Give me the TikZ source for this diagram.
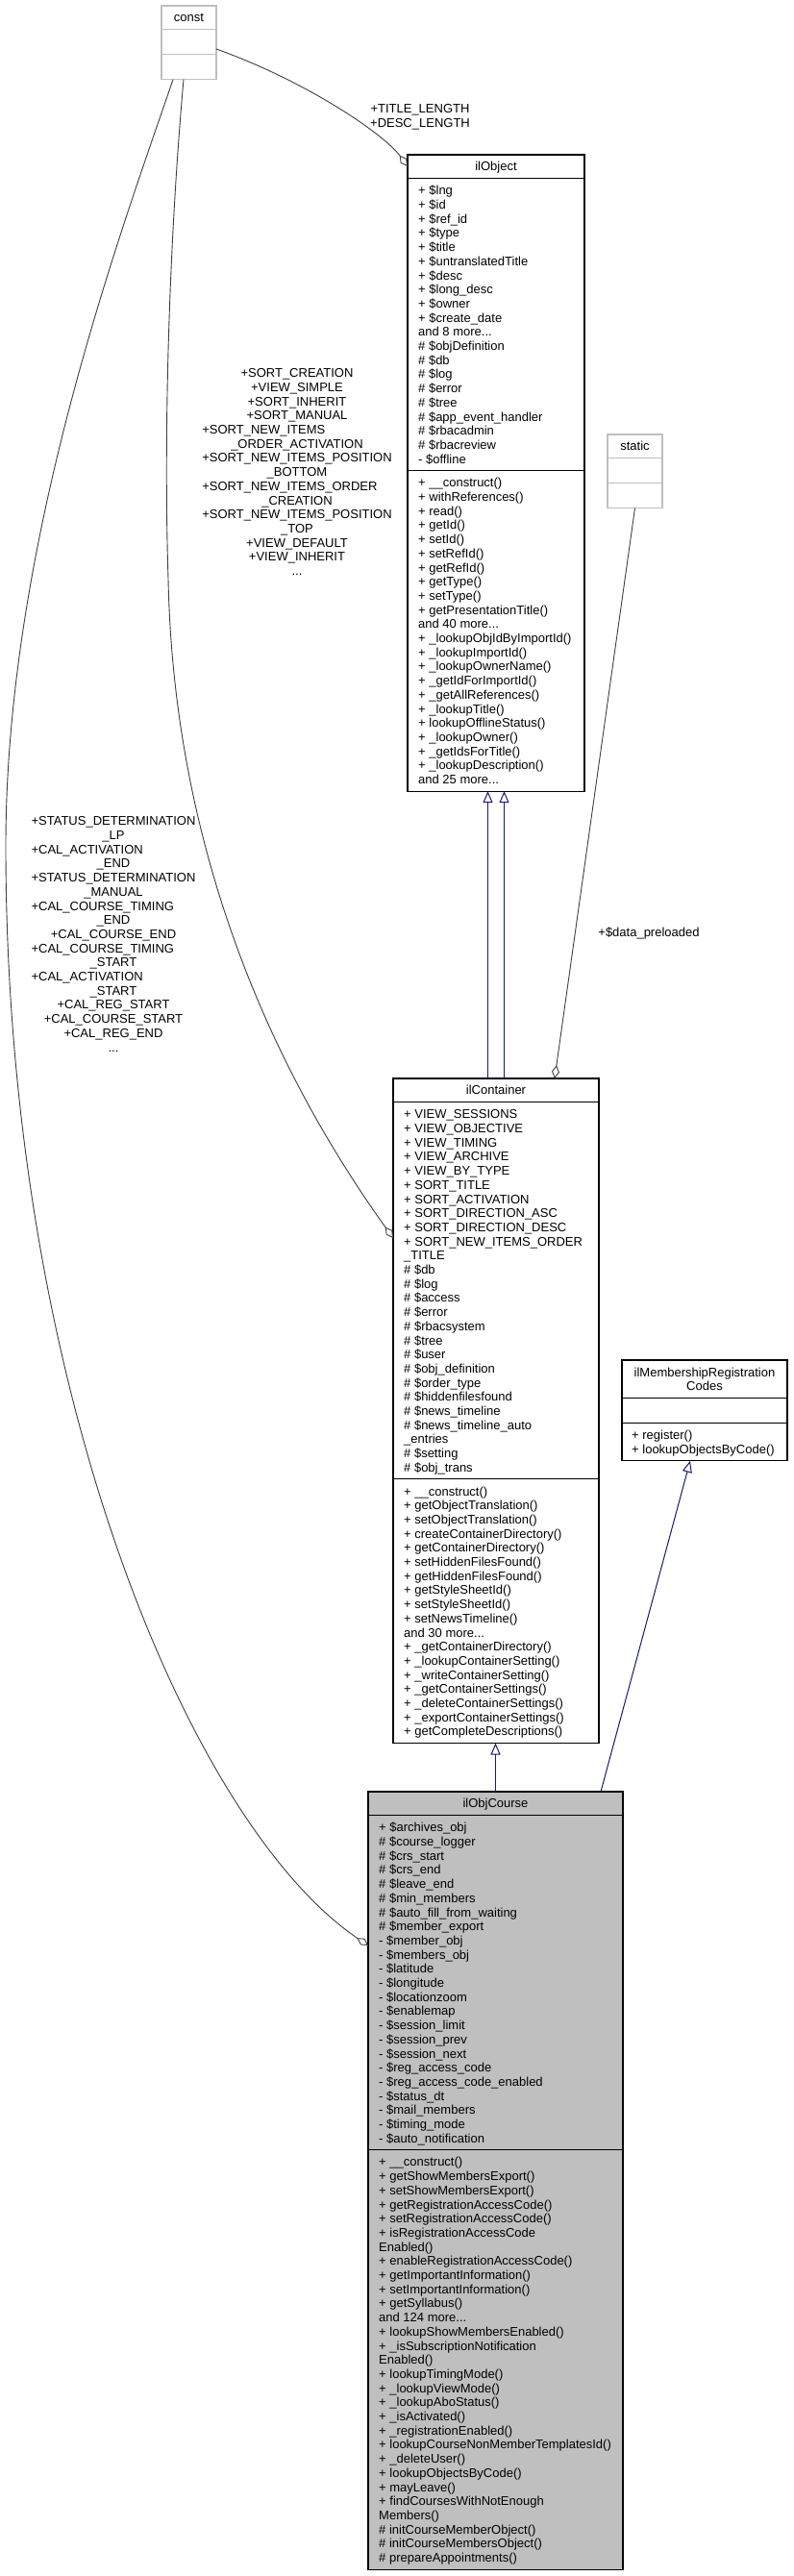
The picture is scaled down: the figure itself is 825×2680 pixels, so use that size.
\documentclass[tikz,border=0pt]{standalone}
\usepackage{fontspec}
\setmainfont{Liberation Sans}
\usetikzlibrary{arrows.meta,calc}
\definecolor{navyedge}{HTML}{191970}
\definecolor{useedge}{HTML}{404040}
\definecolor{coursefill}{HTML}{BFBFBF}
\definecolor{ghost}{HTML}{BFBFBF}
\newcommand{\lsort}[1]{\rlap{#1}\phantom{+SORT\_NEW\_ITEMS\_POSITION}}
\newcommand{\lstat}[1]{\rlap{#1}\phantom{+STATUS\_DETERMINATION}}
\tikzset{
  dfont/.style={font=\fontsize{13}{14.7}\selectfont},
  clsbox/.style={draw=black, fill=white, line width=1.1pt, anchor=north west, inner sep=0pt, outer sep=0pt},
  ghostbox/.style={draw=ghost, fill=white, line width=1.1pt, anchor=north west, inner sep=0pt, outer sep=0pt, minimum width=57pt, minimum height=76.7pt},
  divline/.style={draw=black, line width=1.1pt},
  ghostline/.style={draw=ghost, line width=1.1pt},
  memberlist/.style={dfont, anchor=north west, align=left, inner sep=0pt},
  classtitle/.style={dfont, anchor=base, inner sep=0pt},
  inherit/.style={draw=navyedge, line width=1pt, -{Triangle[open, fill=white, length=12pt, width=10pt]}},
  usage/.style={draw=useedge, line width=0.9pt, -{Diamond[open, fill=white, length=14pt, width=8pt]}},
  edgelabel/.style={dfont, align=center, inner sep=0pt, anchor=north},
}
\begin{document}
\begin{tikzpicture}[x=1pt,y=-1pt]
\fill[white] (0,0) rectangle (825,2680);
\useasboundingbox (0,0) rectangle (825,2680);

% ---------- const ----------
\node[ghostbox] (const) at (168,6) {};
\draw[ghostline] ($(const.north west)+(0,24.7)$) -- ++(57,0);
\draw[ghostline] ($(const.north west)+(0,50.7)$) -- ++(57,0);
\node[classtitle] (constT) at (196.5,22.95) {const};

% ---------- static ----------
\node[ghostbox] (static) at (632,452) {};
\draw[ghostline] ($(static.north west)+(0,24.7)$) -- ++(57,0);
\draw[ghostline] ($(static.north west)+(0,50.7)$) -- ++(57,0);
\node[classtitle] (staticT) at (660.5,468.95) {static};

% ---------- ilObject ----------
\node[clsbox, minimum width=184pt, minimum height=662.1pt] (ilObject) at (424,161) {};
\draw[divline] ($(ilObject.north west)+(0,24.7)$) -- ++(184,0);
\draw[divline] ($(ilObject.north west)+(0,328.7)$) -- ++(184,0);
\node[classtitle] (ilObjectT) at (516,177.95) {ilObject};
\node[memberlist] (ilObjectA) at (435,192.35) {\strut+ \$lng\\
+ \$id\\
+ \$ref\_id\\
+ \$type\\
+ \$title\\
+ \$untranslatedTitle\\
+ \$desc\\
+ \$long\_desc\\
+ \$owner\\
+ \$create\_date\\
and 8 more...\\
\# \$objDefinition\\
\# \$db\\
\# \$log\\
\# \$error\\
\# \$tree\\
\# \$app\_event\_handler\\
\# \$rbacadmin\\
\# \$rbacreview\\
- \$offline};
\node[memberlist] (ilObjectM) at (435,496.35) {\strut+ \_\_construct()\\
+ withReferences()\\
+ read()\\
+ getId()\\
+ setId()\\
+ setRefId()\\
+ getRefId()\\
+ getType()\\
+ setType()\\
+ getPresentationTitle()\\
and 40 more...\\
+ \_lookupObjIdByImportId()\\
+ \_lookupImportId()\\
+ \_lookupOwnerName()\\
+ \_getIdForImportId()\\
+ \_getAllReferences()\\
+ \_lookupTitle()\\
+ lookupOfflineStatus()\\
+ \_lookupOwner()\\
+ \_getIdsForTitle()\\
+ \_lookupDescription()\\
and 25 more...};

% ---------- ilContainer ----------
\node[clsbox, minimum width=214pt, minimum height=691.5pt] (ilContainer) at (409,1122) {};
\draw[divline] ($(ilContainer.north west)+(0,24.7)$) -- ++(214,0);
\draw[divline] ($(ilContainer.north west)+(0,416.9)$) -- ++(214,0);
\node[classtitle] (ilContainerT) at (516,1138.95) {ilContainer};
\node[memberlist] (ilContainerA) at (420,1153.35) {\strut+ VIEW\_SESSIONS\\
+ VIEW\_OBJECTIVE\\
+ VIEW\_TIMING\\
+ VIEW\_ARCHIVE\\
+ VIEW\_BY\_TYPE\\
+ SORT\_TITLE\\
+ SORT\_ACTIVATION\\
+ SORT\_DIRECTION\_ASC\\
+ SORT\_DIRECTION\_DESC\\
+ SORT\_NEW\_ITEMS\_ORDER\\
\_TITLE\\
\# \$db\\
\# \$log\\
\# \$access\\
\# \$error\\
\# \$rbacsystem\\
\# \$tree\\
\# \$user\\
\# \$obj\_definition\\
\# \$order\_type\\
\# \$hiddenfilesfound\\
\# \$news\_timeline\\
\# \$news\_timeline\_auto\\
\_entries\\
\# \$setting\\
\# \$obj\_trans};
\node[memberlist] (ilContainerM) at (420,1545.55) {\strut+ \_\_construct()\\
+ getObjectTranslation()\\
+ setObjectTranslation()\\
+ createContainerDirectory()\\
+ getContainerDirectory()\\
+ setHiddenFilesFound()\\
+ getHiddenFilesFound()\\
+ getStyleSheetId()\\
+ setStyleSheetId()\\
+ setNewsTimeline()\\
and 30 more...\\
+ \_getContainerDirectory()\\
+ \_lookupContainerSetting()\\
+ \_writeContainerSetting()\\
+ \_getContainerSettings()\\
+ \_deleteContainerSettings()\\
+ \_exportContainerSettings()\\
+ getCompleteDescriptions()};

% ---------- ilMembershipRegistrationCodes ----------
\node[clsbox, minimum width=172pt, minimum height=104.8pt] (ilMembership) at (647,1415) {};
\draw[divline] ($(ilMembership.north west)+(0,39.4)$) -- ++(172,0);
\draw[divline] ($(ilMembership.north west)+(0,65.4)$) -- ++(172,0);
\node[dfont, align=center, anchor=north, inner sep=0pt] (ilMembershipT) at (733,1421.65) {\strut ilMembershipRegistration\\Codes};
\node[memberlist] (ilMembershipM) at (657,1487.05) {\strut+ register()\\
+ lookupObjectsByCode()};

% ---------- ilObjCourse ----------
\node[clsbox, fill=coursefill, minimum width=265pt, minimum height=809.1pt] (ilObjCourse) at (383,1864) {};
\draw[divline] ($(ilObjCourse.north west)+(0,24.7)$) -- ++(265,0);
\draw[divline] ($(ilObjCourse.north west)+(0,372.8)$) -- ++(265,0);
\node[classtitle] (ilObjCourseT) at (515.5,1880.95) {ilObjCourse};
\node[memberlist] (ilObjCourseA) at (394,1895.35) {\strut+ \$archives\_obj\\
\# \$course\_logger\\
\# \$crs\_start\\
\# \$crs\_end\\
\# \$leave\_end\\
\# \$min\_members\\
\# \$auto\_fill\_from\_waiting\\
\# \$member\_export\\
- \$member\_obj\\
- \$members\_obj\\
- \$latitude\\
- \$longitude\\
- \$locationzoom\\
- \$enablemap\\
- \$session\_limit\\
- \$session\_prev\\
- \$session\_next\\
- \$reg\_access\_code\\
- \$reg\_access\_code\_enabled\\
- \$status\_dt\\
- \$mail\_members\\
- \$timing\_mode\\
- \$auto\_notification};
\node[memberlist] (ilObjCourseM) at (394,2243.45) {\strut+ \_\_construct()\\
+ getShowMembersExport()\\
+ setShowMembersExport()\\
+ getRegistrationAccessCode()\\
+ setRegistrationAccessCode()\\
+ isRegistrationAccessCode\\
Enabled()\\
+ enableRegistrationAccessCode()\\
+ getImportantInformation()\\
+ setImportantInformation()\\
+ getSyllabus()\\
and 124 more...\\
+ lookupShowMembersEnabled()\\
+ \_isSubscriptionNotification\\
Enabled()\\
+ lookupTimingMode()\\
+ \_lookupViewMode()\\
+ \_lookupAboStatus()\\
+ \_isActivated()\\
+ \_registrationEnabled()\\
+ lookupCourseNonMemberTemplatesId()\\
+ \_deleteUser()\\
+ lookupObjectsByCode()\\
+ mayLeave()\\
+ findCoursesWithNotEnough\\
Members()\\
\# initCourseMemberObject()\\
\# initCourseMembersObject()\\
\# prepareAppointments()};

% ---------- connectors ----------
\draw[usage] ($(const.north east)+(0,45)$) .. controls (320,85) and (400,140) .. ($(ilObject.north west)+(0,12)$);
\draw[usage] ($(const.south west)+(23,0)$) .. controls (176,250) and (170,450) .. (175,602)
   .. controls (180,850) and (260,1080) .. ($(ilContainer.north west)+(0,166)$);
\draw[usage] ($(const.south west)+(12,0)$) .. controls (130,230) and (6,560) .. (6,880)
   .. controls (6,1450) and (200,1900) .. ($(ilObjCourse.north west)+(0,160)$);
\draw[usage] (static.south) -- ($(ilContainer.north west)+(168,0)$);

\draw[inherit] ($(ilContainer.north)+(-8.5,0)$) -- ($(ilObject.south)+(-8.5,0)$);
\draw[inherit] ($(ilContainer.north)+(8.5,0)$) -- ($(ilObject.south)+(8.5,0)$);
\draw[inherit] (ilObjCourse.north) -- (ilObjCourse.north |- ilContainer.south);
\draw[inherit] ($(ilObjCourse.north west)+(242,0)$) -- ($(ilMembership.south west)+(71,0)$);

% ---------- edge labels ----------
\node[edgelabel] (lblTitle) at (437,107.3) {\strut+TITLE\_LENGTH\\+DESC\_LENGTH};
\node[edgelabel] (lblSort) at (309,382.3) {\strut+SORT\_CREATION\\
+VIEW\_SIMPLE\\
+SORT\_INHERIT\\
+SORT\_MANUAL\\
\lsort{+SORT\_NEW\_ITEMS}\\
\_ORDER\_ACTIVATION\\
+SORT\_NEW\_ITEMS\_POSITION\\
\_BOTTOM\\
\lsort{+SORT\_NEW\_ITEMS\_ORDER}\\
\_CREATION\\
+SORT\_NEW\_ITEMS\_POSITION\\
\_TOP\\
+VIEW\_DEFAULT\\
+VIEW\_INHERIT\\
...};
\node[edgelabel] (lblStatus) at (118,848.3) {\strut+STATUS\_DETERMINATION\\
\_LP\\
\lstat{+CAL\_ACTIVATION}\\
\_END\\
+STATUS\_DETERMINATION\\
\_MANUAL\\
\lstat{+CAL\_COURSE\_TIMING}\\
\_END\\
+CAL\_COURSE\_END\\
\lstat{+CAL\_COURSE\_TIMING}\\
\_START\\
\lstat{+CAL\_ACTIVATION}\\
\_START\\
+CAL\_REG\_START\\
+CAL\_COURSE\_START\\
+CAL\_REG\_END\\
...};
\node[classtitle] (lblData) at (675,974.6) {+\$data\_preloaded};
\end{tikzpicture}
\end{document}
